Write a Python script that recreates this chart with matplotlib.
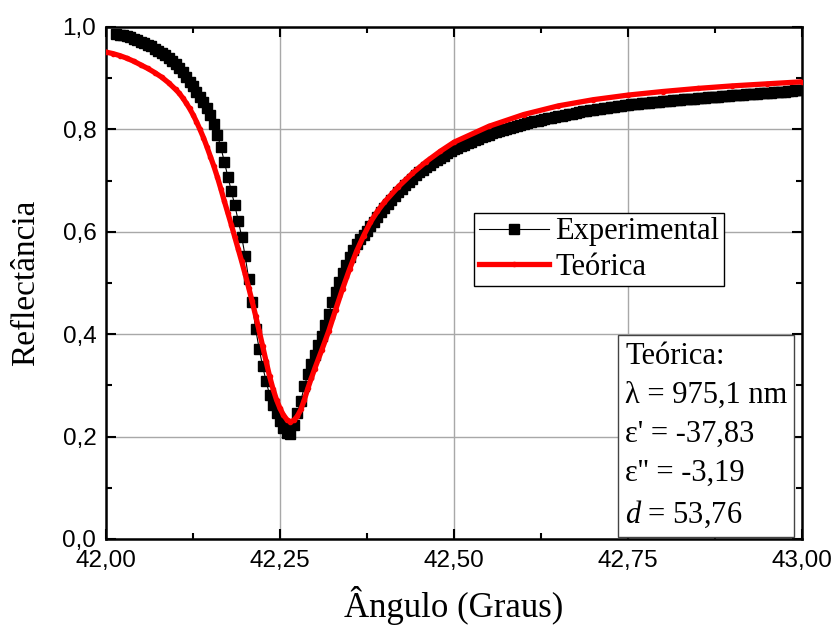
import numpy as np
import matplotlib
matplotlib.use("Agg")
import matplotlib.pyplot as plt

# ---------------- data ----------------
# Experimental scan: uniform angular grid (start, step)
exp_start, exp_step = 42.015, 0.005
exp_refl = [
    0.986, 0.985, 0.984, 0.982, 0.980, 0.977, 0.974, 0.971, 0.968, 0.965,
    0.962, 0.958, 0.954, 0.950, 0.945, 0.939, 0.933, 0.927, 0.920, 0.912,
    0.903, 0.893, 0.884, 0.874, 0.864, 0.853, 0.842, 0.828, 0.811, 0.790,
    0.765, 0.737, 0.708, 0.680, 0.652, 0.622, 0.590, 0.552, 0.508, 0.462,
    0.410, 0.372, 0.338, 0.308, 0.282, 0.262, 0.246, 0.230, 0.217, 0.208,
    0.206, 0.222, 0.247, 0.270, 0.298, 0.322, 0.342, 0.360, 0.378, 0.397,
    0.418, 0.440, 0.462, 0.482, 0.502, 0.520, 0.536, 0.551, 0.564, 0.576,
    0.586, 0.594, 0.602, 0.611, 0.620, 0.629, 0.638, 0.647, 0.655, 0.663,
    0.670, 0.677, 0.684, 0.691, 0.697, 0.703, 0.710, 0.716, 0.721, 0.726,
    0.731, 0.736, 0.740, 0.745, 0.749, 0.753, 0.757, 0.761, 0.764, 0.767,
    0.770, 0.773, 0.776, 0.779, 0.782, 0.785, 0.787, 0.789, 0.792, 0.794,
    0.796, 0.799, 0.801, 0.803, 0.805, 0.807, 0.809, 0.811, 0.813, 0.814,
    0.816, 0.817, 0.819, 0.820, 0.822, 0.823, 0.825, 0.826, 0.827, 0.829,
    0.830, 0.831, 0.832, 0.834, 0.835, 0.836, 0.837, 0.838, 0.839, 0.840,
    0.841, 0.842, 0.843, 0.844, 0.845, 0.846, 0.847, 0.848, 0.849, 0.849,
    0.850, 0.851, 0.852, 0.852, 0.853, 0.854, 0.854, 0.855, 0.856, 0.856,
    0.857, 0.858, 0.858, 0.859, 0.859, 0.860, 0.860, 0.861, 0.862, 0.862,
    0.863, 0.863, 0.864, 0.864, 0.865, 0.866, 0.866, 0.867, 0.867, 0.868,
    0.868, 0.869, 0.869, 0.870, 0.870, 0.871, 0.871, 0.872, 0.872, 0.873,
    0.873, 0.874, 0.874, 0.875, 0.875, 0.876, 0.876, 0.877,
]
exp_angle = np.round(np.arange(len(exp_refl)) * exp_step + exp_start, 3)

theo_angle = [42.000, 42.010, 42.020, 42.030, 42.040, 42.050, 42.060, 42.070,
              42.080, 42.090, 42.100, 42.105, 42.110, 42.115, 42.120, 42.125,
              42.130, 42.135, 42.140, 42.145, 42.150, 42.155, 42.160, 42.165,
              42.170, 42.175, 42.180, 42.185, 42.190, 42.195, 42.200, 42.205,
              42.210, 42.215, 42.220, 42.225, 42.230, 42.235, 42.240, 42.245,
              42.250, 42.255, 42.260, 42.265, 42.270, 42.275, 42.280, 42.285,
              42.290, 42.295, 42.300, 42.310, 42.320, 42.330, 42.340, 42.350,
              42.360, 42.370, 42.380, 42.390, 42.400, 42.420, 42.440, 42.460,
              42.480, 42.500, 42.550, 42.600, 42.650, 42.700, 42.750, 42.800,
              42.850, 42.900, 42.950, 43.000]
theo_refl = [0.951, 0.948, 0.944, 0.939, 0.933, 0.926, 0.919, 0.911,
             0.902, 0.891, 0.878, 0.871, 0.862, 0.852, 0.841, 0.829,
             0.815, 0.800, 0.784, 0.766, 0.747, 0.728, 0.707, 0.684,
             0.660, 0.637, 0.614, 0.590, 0.566, 0.542, 0.517, 0.491,
             0.464, 0.436, 0.407, 0.377, 0.347, 0.318, 0.293, 0.272,
             0.255, 0.242, 0.233, 0.229, 0.232, 0.240, 0.253, 0.272,
             0.294, 0.314, 0.333, 0.369, 0.406, 0.448, 0.489, 0.527,
             0.562, 0.592, 0.619, 0.640, 0.658, 0.688, 0.714, 0.737,
             0.757, 0.775, 0.806, 0.829, 0.846, 0.858, 0.867, 0.874,
             0.880, 0.885, 0.889, 0.893]

x_ticks = [42.00, 42.25, 42.50, 42.75, 43.00]
x_tick_labels = ["42,00", "42,25", "42,50", "42,75", "43,00"]
y_ticks = [0.0, 0.2, 0.4, 0.6, 0.8, 1.0]
y_tick_labels = ["0,0", "0,2", "0,4", "0,6", "0,8", "1,0"]

series_labels = ["Experimental", "Teórica"]
x_label = "Ângulo (Graus)"
y_label = "Reflectância"
info_lines = ["Teórica:", "λ = 975,1 nm", "ε' = -37,83", "ε'' = -3,19", "$d$ = 53,76"]

# ---------------- style ----------------
plt.rcParams["font.family"] = ["Liberation Serif", "DejaVu Serif"]
plt.rcParams["mathtext.fontset"] = "custom"
plt.rcParams["mathtext.it"] = "Liberation Serif:italic"
plt.rcParams["mathtext.rm"] = "Liberation Serif"

fig = plt.figure(figsize=(8.35, 6.27), dpi=100)
ax = fig.add_axes([106 / 835, 1 - 539 / 627, 696 / 835, 512 / 627])

ax.plot(exp_angle, exp_refl, "-s", color="black", lw=0.8, ms=6.8,
        label=series_labels[0], zorder=3)
ax.plot(theo_angle, theo_refl, "-o", color="#ff0000", lw=3.8, ms=3,
        label=series_labels[1], zorder=4)

ax.set_xlim(42.0, 43.0)
ax.set_ylim(0.0, 1.0)
ax.set_xticks(x_ticks)
ax.set_xticklabels(x_tick_labels)
ax.set_yticks(y_ticks)
ax.set_yticklabels(y_tick_labels)
ax.set_xticks([42.125, 42.375, 42.625, 42.875], minor=True)
ax.set_yticks([0.1, 0.3, 0.5, 0.7, 0.9], minor=True)

for lab in ax.get_xticklabels() + ax.get_yticklabels():
    lab.set_fontfamily(["Liberation Sans", "DejaVu Sans"])
    lab.set_fontsize(17.5)

ax.tick_params(which="both", direction="in", top=True, right=True, width=1.5)
ax.tick_params(which="major", length=7)
ax.tick_params(which="minor", length=4)
ax.tick_params(axis="x", which="major", pad=8)
ax.tick_params(axis="y", which="major", pad=7)

for sp in ax.spines.values():
    sp.set_linewidth(1.8)

ax.grid(True, which="major", color="#a8a8a8", lw=1.0, zorder=0)
ax.set_axisbelow(True)

ax.set_xlabel(x_label, fontsize=25)
ax.set_ylabel(y_label, fontsize=24)
ax.xaxis.set_label_coords(0.5, -0.092)
ax.yaxis.set_label_coords(-0.094, 0.5)

leg = ax.legend(loc="upper left", bbox_to_anchor=(0.529, 0.637), fontsize=22,
                frameon=True, fancybox=False, edgecolor="black", framealpha=1,
                borderaxespad=0, borderpad=0.15, labelspacing=0.2,
                handlelength=2.3, handletextpad=0.2, numpoints=1)
leg.get_frame().set_linewidth(1.0)

ax.text(0.7457, 0.385, "\n".join(info_lines), transform=ax.transAxes,
        ha="left", va="top", fontsize=22, linespacing=1.45, zorder=6,
        bbox=dict(boxstyle="square,pad=0.22", fc="white", ec="#444444", lw=1.0))

fig.savefig("out.png", dpi=100)
